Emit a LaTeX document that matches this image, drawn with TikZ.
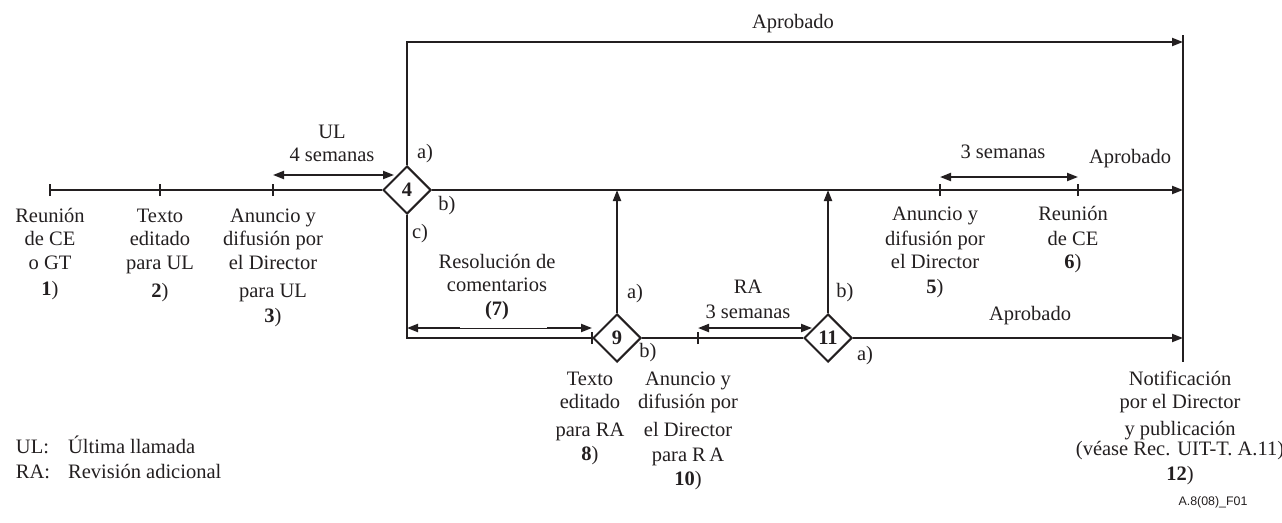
\documentclass[tikz,border=0pt]{standalone}
\usepackage{fontspec}
\setmainfont{Liberation Serif}
\newfontfamily\figsans{Liberation Sans}
\usetikzlibrary{shapes.geometric,arrows.meta}
\definecolor{ink}{RGB}{35,31,32}
\newcommand\mlt[1]{\begin{tabular}[t]{@{}c@{}}#1\end{tabular}}
\begin{document}
\begin{tikzpicture}[x=1pt,y=-1pt,line width=2pt,color=ink,
  every node/.style={text=ink,font=\fontsize{20.5}{23.5}\selectfont,inner sep=0pt},
  dec/.style={diamond,draw=ink,line width=2pt,minimum width=48pt,minimum height=48pt,inner sep=0pt,font=\fontsize{20.5}{23.5}\selectfont\bfseries},
  arr/.style={-{Triangle[length=11pt,width=8pt]}},
  darr/.style={{Triangle[length=11pt,width=8pt]}-{Triangle[length=11pt,width=8pt]}},
  lbl/.style={anchor=base},
  tick/.style={line width=2pt}]
\useasboundingbox (0,0) rectangle (1282,522);
% points
\coordinate (t1) at (50,190);
\coordinate (t2) at (160,190);
\coordinate (t3) at (273,190);
\node[dec] (d4) at (407,190) {4};
\node[dec] (d9) at (617,338) {9};
\node[dec] (d11) at (828,338) {11};
\coordinate (t5) at (940,190);
\coordinate (t6) at (1078,190);
\coordinate (e2) at (1183,190);
\coordinate (e1) at (1183,42);
\coordinate (t10) at (698,338);
\coordinate (j9) at (617,190);
\coordinate (j11) at (828,190);
\coordinate (e3) at (1183,338);
\coordinate (vt) at (1183,35);
\coordinate (vb) at (1183,362);
\coordinate (ua) at (273,175);
\coordinate (ub) at (394,175);
\coordinate (sa) at (940,177);
\coordinate (sb) at (1078,177);
\coordinate (ra) at (698,328);
\coordinate (rb) at (812,328);
\coordinate (rsa) at (407,328);
\coordinate (rsm1) at (460,328);
\coordinate (rsm2) at (547,328);
\coordinate (rsb) at (592,328);
% connectors
\draw (t1) -- (d4.west);
\draw[arr] (d4.east) -- (e2);
\draw[arr] (d4.north) |- (e1);
\draw (d4.south) |- (d9.west);
\draw[arr] (d9.north) -- (j9);
\draw (d9.east) -- (d11.west);
\draw[arr] (d11.north) -- (j11);
\draw[arr] (d11.east) -- (e3);
\draw (vt) -- (vb);
% ticks
\foreach \p in {t1,t2,t3,t5,t6,t10,d9.west}
  \draw[tick] ([yshift=-6pt]\p) -- ([yshift=6pt]\p);
% duration arrows
\draw[darr] (ua) -- (ub);
\draw[darr] (sa) -- (sb);
\draw[darr] (ra) -- (rb);
\draw[line width=0.8pt] (rsm1) -- (rsm2);
\draw[arr] (rsm1) -- (rsa);
\draw[arr] (rsm2) -- (rsb);
% labels
\node[lbl] (ap1) at (793,28) {Aprobado};
\node[lbl] (ul) at (332,138) {\mlt{UL\\4 semanas}};
\node[lbl] (a4) at (425,158) {a)};
\node[lbl] (b4) at (447,210) {b)};
\node[lbl] (c4) at (420,238) {c)};
\node[lbl] (l1) at (50,222) {\mlt{Reunión\\de CE\\o GT\\[3pt]\textbf{1})}};
\node[lbl] (l2) at (160,222) {\mlt{Texto\\editado\\para UL\\[5pt]\textbf{2})}};
\node[lbl] (l3) at (273,222) {\mlt{Anuncio y\\difusión por\\el Director\\[5pt]para UL\\[1.5pt]\textbf{3})}};
\node[lbl] (res) at (497,268) {\mlt{Resolución de\\comentarios\\\textbf{(7)}}};
\node[lbl] (a9) at (635,298) {a)};
\node[lbl] (b9) at (648,357) {b)};
\node[lbl] (ra3) at (748,293) {\mlt{RA\\[1.5pt]3 semanas}};
\node[lbl] (b11) at (845,297) {b)};
\node[lbl] (a11) at (865,360) {a)};
\node[lbl] (l5) at (935,220) {\mlt{Anuncio y\\[1.5pt]difusión por\\el Director\\[1.5pt]\textbf{5})}};
\node[lbl] (l6) at (1073,220) {\mlt{Reunión\\[1.5pt]de CE\\\textbf{6})}};
\node[lbl] (s3) at (1003,158) {3 semanas};
\node[lbl] (ap2) at (1130,163) {Aprobado};
\node[lbl] (ap3) at (1030,320) {Aprobado};
\node[lbl] (l8) at (590,385) {\mlt{Texto\\editado\\[4.5pt]para RA\\\textbf{8})}};
\node[lbl] (l10) at (688,385) {\mlt{Anuncio y\\difusión por\\[4.5pt]el Director\\[1.5pt]para R\,A\\\textbf{10})}};
\node[lbl] (l12) at (1180,385) {\mlt{Notificación\\por el Director\\[3.5pt]y publicación\\[-3.5pt](véase Rec. UIT-T. A.11)\\[1.5pt]\textbf{12})}};
\node[anchor=base west] (leg) at (15,453) {\begin{tabular}[t]{@{}l@{\hspace{18pt}}l@{}}UL: & Última llamada\\[1.5pt]RA: & Revisión adicional\end{tabular}};
\node[lbl,font=\figsans\fontsize{12.4}{14}\selectfont] (fig) at (1213,505) {A.8(08)\_F01};
\end{tikzpicture}
\end{document}
